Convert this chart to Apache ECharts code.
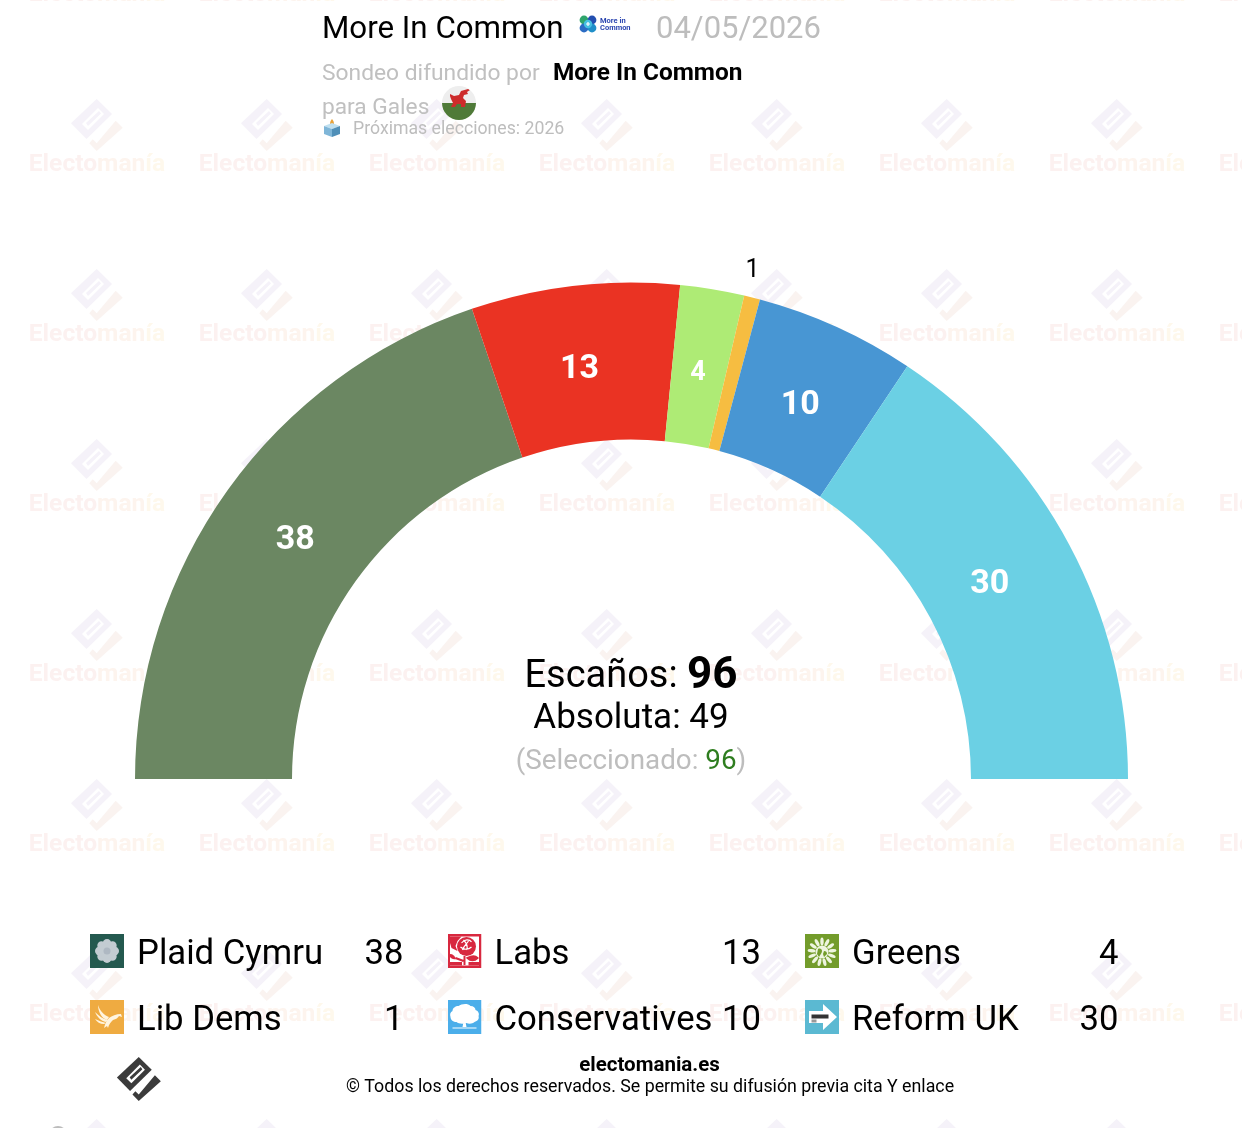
<!DOCTYPE html>
<html>
<head>
<meta charset="utf-8">
<style>html,body{margin:0;padding:0;background:#fff}#c{width:1242px;height:1128px}</style>
<script src="https://cdn.jsdelivr.net/npm/echarts@6/dist/echarts.min.js"></script>
</head>
<body>
<div id="c"></div>
<script>
// ---- data ----
const parties = ['Plaid Cymru', 'Labs', 'Greens', 'Lib Dems', 'Conservatives', 'Reform UK'];
const seats = [38, 13, 4, 1, 10, 30];
const sliceColors = ['#6b8762', '#ea3323', '#aeeb75', '#f6bd41', '#4896d3', '#6bd0e4'];
const pollster = 'More In Common';
const pollDate = '04/05/2026';
const majority = 49;
const selected = 96;
const nextElection = 2026;

// ---- helpers ----
const FONT = 'Roboto';
const total = seats.reduce((a, b) => a + b, 0);
const svgUri = (w, h, body) => 'data:image/svg+xml;charset=utf-8,' + encodeURIComponent(
  `<svg xmlns="http://www.w3.org/2000/svg" width="${w}" height="${h}" viewBox="0 0 ${w} ${h}">${body}</svg>`);

const petals = (n, cx, cy, r, rx, ry, fill) => Array.from({length: n}, (_, i) =>
  `<ellipse cx="${cx}" cy="${cy - r}" rx="${rx}" ry="${ry}" fill="${fill}" transform="rotate(${i * 360 / n} ${cx} ${cy})"/>`).join('');

// legend icons: 34px square at the top of a 34x42 transparent cell
const cell = body => svgUri(34, 42, body);
const legendIcons = {
  'Plaid Cymru': cell(`<rect width="34" height="34" fill="#24594f"/>${petals(8, 17, 17, 7, 4.5, 5, '#c3ccd2')}<circle cx="17" cy="17" r="7.5" fill="#c3ccd2"/><circle cx="17" cy="17" r="3.5" fill="#aeb8c2"/>`),
  'Labs': cell(`<rect width="34" height="34" fill="#d8283f"/><rect x="2.5" y="2.5" width="29" height="29" fill="#fff"/><path d="M2.5 2.5H14L10 7 8 12 10 17 4 14 2.5 9Z" fill="#d8283f"/><circle cx="19" cy="12.5" r="9.5" fill="#d8283f"/><path d="M14 9c3-4 8-4 10-1M13 13c3 3 8 3 11 0M16 6c3 3 5 6 3 10M21 7c-2 3-5 5-6 9" stroke="#fff" stroke-width="1.2" fill="none"/><path d="M17 22v9M8 24l8 3M20 24c4-2 8-2 10 0-3 3-7 3-10 0Z" stroke="#d8283f" stroke-width="2" fill="#d8283f"/><path d="M2.5 20c3 0 5 2 6 5-3 1-5-1-6-2Z" fill="#d8283f"/><rect x="2.5" y="28" width="12" height="3.5" fill="#d8283f"/><rect x="21" y="28" width="10.5" height="3.5" fill="#d8283f"/>`),
  'Greens': cell(`<rect width="34" height="34" fill="#739c2b"/>${petals(13, 17, 18, 10.5, 1.7, 4, '#eef5df')}<circle cx="17" cy="18" r="6.5" fill="#eef5df"/><path d="M13 15c2-1 4 0 4 2s-2 4-3 6l-2-3ZM19 17c2 0 3 1 3 3l-3 3-1-3Z" fill="#739c2b"/>`),
  'Lib Dems': cell(`<rect width="34" height="34" fill="#efab41"/><g fill="#fff4df"><path d="M8 5c2 6 6 10 11 12l-2 3C11 18 8 11 8 5Z"/><path d="M5 12c4 4 8 7 13 8l-2 2C11 21 7 17 5 12Z"/><path d="M5 19c4 2 8 3 11 4l-2 1c-4 0-7-2-9-5Z"/><path d="M31 14c-5 0-9 2-12 4-3 3-4 6-5 10l3-2 1 2c1-4 3-6 5-8 3-1 5-2 6-4l3 1Z"/></g>`),
  'Conservatives': cell(`<rect width="34" height="34" fill="#4baeea"/><path d="M11 6c3-2 9-3 12 0 3 0 5 2 5 4 3 1 4 4 3 6 1 3-1 5-4 6-2 2-6 2-8 1-3 1-8 1-10-1-3 0-6-2-6-5-1-3 0-5 2-6 0-3 3-5 6-5Z" fill="#fff"/><path d="M16 22h2l1 5h-4ZM5 27.5h24v1H5Z" fill="#fff"/>`),
  'Reform UK': cell(`<rect width="34" height="34" fill="#5bb9d2"/><path d="M4 11H18V4L32 17 18 30V23H4Z" fill="#fff"/><rect x="6.5" y="14.5" width="17" height="4" fill="#333"/><rect x="6.5" y="19.5" width="5" height="3" fill="#999"/>`)
};

const flagIcon = svgUri(36, 36, `<defs><clipPath id="k"><circle cx="18" cy="18" r="17"/></clipPath></defs><g clip-path="url(#k)"><rect width="36" height="18" fill="#eeeeee"/><rect y="18" width="36" height="18" fill="#4f7a38"/><path d="M9 9l4 2 5-1 2-4 7-2 2 1-3 2 1 2-4 1-1 3 3 3-1 6h-4v-3h-4l-2 3h-4l2-4-2-4-1-3Z" fill="#cd2b2b"/></g>`);
const ballotIcon = svgUri(20, 20, `<path d="M10 1c1.5 2 2 3 2 5h-4c0-2 .5-3 2-5Z" fill="#e8a23a"/><path d="M2 8l8-3 8 3-8 3Z" fill="#bfe0f0"/><path d="M2 8l8 3v8l-8-3Z" fill="#7fb6d8"/><path d="M18 8l-8 3v8l8-3Z" fill="#4f8fb8"/>`);
const micIcon = svgUri(18, 18, `<circle cx="5" cy="5" r="4.4" fill="#2fa56c"/><circle cx="13" cy="5" r="4.4" fill="#234fb0"/><circle cx="5" cy="13" r="4.4" fill="#2b6cc4"/><circle cx="13" cy="13" r="4.4" fill="#1f8fc9"/><circle cx="9" cy="9" r="4.2" fill="#45bfe0"/><path d="M9 7v4M7 9h4" stroke="#fff" stroke-width="1.2"/>`);

function logoEls(cx, cy, s, c1, c2, z, slitFill) {
  const P = pts => pts.map(p => [cx + p[0] * s, cy + p[1] * s]);
  return [
    {type: 'polygon', silent: true, z, shape: {points: P([[-0.3, -26], [15, -11], [-10.5, 14], [-26, -1.7]])}, style: {fill: c1}},
    {type: 'polygon', silent: true, z, shape: {points: P([[-15, -1], [1, -17], [7, -11], [-9, 5]])}, style: {fill: slitFill || '#fff'}},
    {type: 'polygon', silent: true, z, shape: {points: P([[-11, -2], [2, -14], [4, -11.5], [-9, 1]])}, style: {fill: c1}},
    {type: 'polygon', silent: true, z, shape: {points: P([[18.7, -4.3], [25.7, 2.7], [-0.3, 26], [-7.7, 18.3], [-4.3, 14.3], [-0.3, 18.3]])}, style: {fill: c2}}
  ];
}

// ---- watermark ----
const watermark = [];
const wmFont = `bold 24.6px ${FONT}`;
for (let ix = 0; ix < 8; ix++) {
  for (let iy = 0; iy < 8; iy++) {
    const x = 97 + 170 * ix, y = -7 + 170 * iy;
    watermark.push(...logoEls(x, y - 38, 1, '#f5f2f9', '#faf3f0', 0));
    watermark.push({
      type: 'text', silent: true, z: 0, x, y: y + 2,
      style: {
        text: '{a|Electo}{b|man}{c|ía}', align: 'center', verticalAlign: 'middle',
        rich: {
          a: {font: wmFont, fill: '#fcf1f0'},
          b: {font: wmFont, fill: '#fdf4ee'},
          c: {font: wmFont, fill: '#fef8ec'}
        }
      }
    });
  }
}

const txt = (x, y, text, size, fill, extra) => ({
  type: 'text', silent: true, z: 10, x, y,
  style: Object.assign({text, fill, align: 'left', verticalAlign: 'middle', font: `${size}px ${FONT}`}, extra || {})
});
const img = (x, y, w, h, image) => ({type: 'image', silent: true, z: 10, x, y, style: {image, width: w, height: h}});

const overlay = [
  txt(322, 30, pollster, 31.3, '#000'),
  img(579, 15, 18, 18, micIcon),
  txt(600, 21, 'More in', 7.5, '#2c46b0', {font: `bold 7.5px ${FONT}`}),
  txt(600, 28, 'Common', 7.5, '#2c46b0', {font: `bold 7.5px ${FONT}`}),
  txt(656, 30, pollDate, 31, '#bdbdbd'),
  txt(322, 74, 'Sondeo difundido por', 22.8, '#c0c0c0'),
  txt(553, 74, pollster, 24.4, '#000', {font: `bold 24.4px ${FONT}`}),
  txt(322, 108, 'para Gales', 22.7, '#c0c0c0'),
  img(441, 85, 36, 36, flagIcon),
  img(322, 118, 20, 20, ballotIcon),
  txt(353, 130, 'Próximas elecciones: ' + nextElection, 17.7, '#bdbdbd'),
  {
    type: 'text', silent: true, z: 10, x: 631, y: 677,
    style: {
      text: `{a|Escaños: }{b|${total}}`, align: 'center', verticalAlign: 'middle',
      rich: {
        a: {font: `38px ${FONT}`, fill: '#000'},
        b: {font: `bold 44px ${FONT}`, fill: '#000'}
      }
    }
  },
  txt(631, 719, 'Absoluta: ' + majority, 35, '#000', {align: 'center'}),
  {
    type: 'text', silent: true, z: 10, x: 631, y: 762,
    style: {
      text: `{a|(Seleccionado: }{b|${selected}}{a|)}`, align: 'center', verticalAlign: 'middle',
      rich: {
        a: {font: `27.8px ${FONT}`, fill: '#bdbdbd'},
        b: {font: `27.8px ${FONT}`, fill: '#2e7d1f'}
      }
    }
  },
  txt(649.5, 1066, 'electomania.es', 20.5, '#000', {align: 'center', font: `bold 20.5px ${FONT}`}),
  txt(650, 1088, '© Todos los derechos reservados. Se permite su difusión previa cita Y enlace', 17.8, '#000', {align: 'center'}),
  ...logoEls(139, 1079, 0.85, '#3b3b3b', '#3b3b3b', 10),
  {type: 'circle', silent: true, z: 10, shape: {cx: 58, cy: 1135, r: 9}, style: {fill: '#bcbcbc'}}
];

// ---- chart ----
const labelSizes = [34, 34, 27, 25, 34, 34];
const labelShift = [[6, 7], [-4, 9], [-2, 10], [-15, -13], [-5, 10], [-13, 4]];
const pieData = parties.map((name, i) => {
  const outside = seats[i] === 1;
  return {
    name, value: seats[i],
    itemStyle: {color: sliceColors[i]},
    label: outside
      ? {position: 'outside', color: '#000', fontWeight: 'normal', fontSize: labelSizes[i]}
      : {position: 'inside', color: '#fff', fontWeight: 'bold', fontSize: labelSizes[i]},
    labelLine: {show: false}
  };
});

const legendValue = name => {
  const v = String(seats[parties.indexOf(name)]);
  return v.length < 2 ? '\u2007' + v : v; // figure space keeps digits in the right-hand column
};

const chart = echarts.init(document.getElementById('c'), null, {renderer: 'canvas'});
chart.setOption({
  animation: false,
  backgroundColor: '#fff',
  textStyle: {fontFamily: FONT},
  legend: {
    left: 90, top: 934, width: 1080,
    orient: 'horizontal',
    itemWidth: 34, itemHeight: 42, itemGap: 24,
    selectedMode: false,
    padding: 0,
    data: parties.map(name => ({name, icon: 'image://' + legendIcons[name]})),
    formatter: name => `{n|${name}}{v|${legendValue(name)}}{e|}`,
    textStyle: {
      padding: [0, 0, 0, 8],
      rich: {
        n: {fontFamily: FONT, fontSize: 34.7, color: '#000', width: 222, align: 'left', lineHeight: 34},
        v: {fontFamily: FONT, fontSize: 34.7, color: '#000', width: 50, align: 'right', lineHeight: 34},
        e: {width: 29}
      }
    }
  },
  series: [{
    type: 'pie',
    center: [631.5, 779],
    radius: [339.5, 496.5],
    startAngle: 180,
    endAngle: 0,
    clockwise: true,
    avoidLabelOverlap: false,
    silent: true,
    label: {formatter: '{c}', fontFamily: FONT},
    labelLine: {show: false, length: 14, length2: 0},
    labelLayout: p => ({dx: labelShift[p.dataIndex][0], dy: labelShift[p.dataIndex][1]}),
    data: pieData
  }],
  graphic: {elements: [...watermark, ...overlay]}
});
</script>
</body>
</html>
